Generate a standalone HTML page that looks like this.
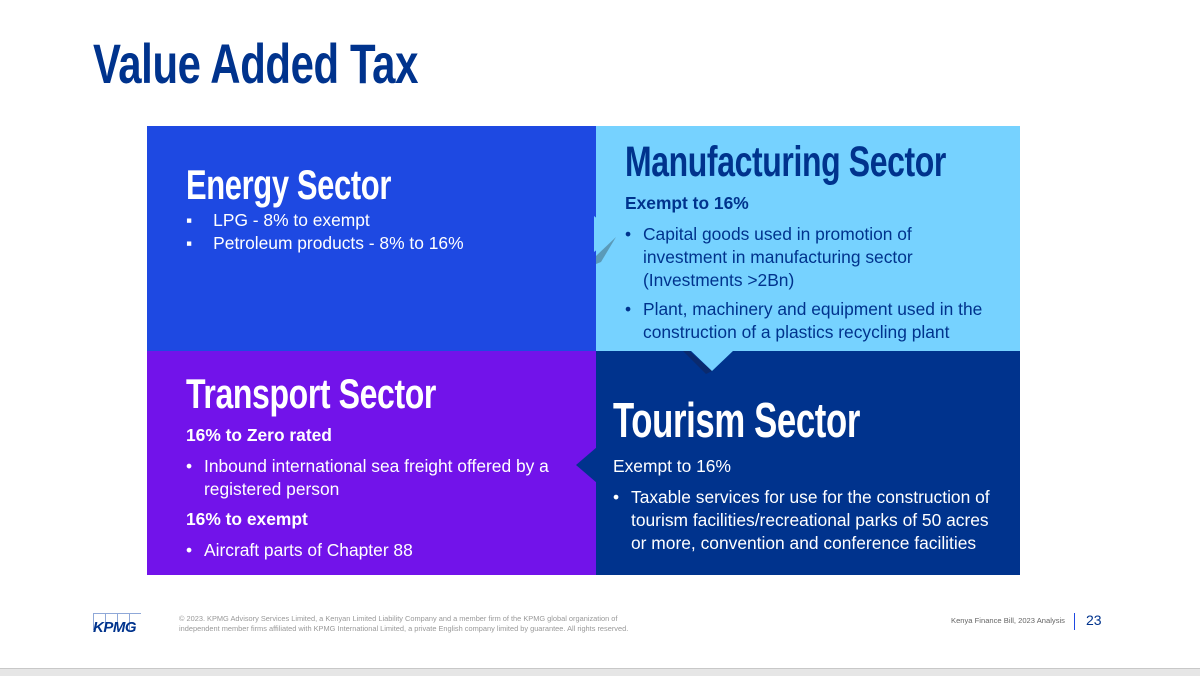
<!DOCTYPE html>
<html><head><meta charset="utf-8"><style>
body{margin:0;width:1200px;height:675px;overflow:hidden;background:#fff;font-family:"Liberation Sans",sans-serif;position:relative}
.a{position:absolute}
.h{position:absolute;font-weight:bold;transform-origin:left top;white-space:nowrap;letter-spacing:-0.5px;line-height:1}
.t{position:absolute;font-size:17.4px;line-height:23px;white-space:nowrap}
.t b.bu{font-weight:normal;display:inline-block;width:18px}
.q{position:absolute}
</style></head><body>
<div class="h" data-w="325" style="left:93px;top:36px;font-size:56px;color:#00338d">Value Added Tax</div>

<div class="q" style="left:147px;top:126px;width:449px;height:225px;background:#1e49e2"></div>
<div class="q" style="left:596px;top:126px;width:424px;height:225px;background:#76d2ff"></div>
<div class="q" style="left:147px;top:351px;width:449px;height:224px;background:#7213ea"></div>
<div class="q" style="left:596px;top:351px;width:424px;height:224px;background:#00338d"></div>

<div class="h" data-w="205" style="left:186px;top:164px;font-size:42px;color:#fff">Energy Sector</div>
<div class="t" style="left:186px;top:209px;color:#fff">
<div>▪<span style="padding-left:21px">LPG - 8% to exempt</span></div>
<div>▪<span style="padding-left:21px">Petroleum products - 8% to 16%</span></div></div>

<div class="h" data-w="321" style="left:625px;top:141px;font-size:43px;color:#00338d">Manufacturing Sector</div>
<div class="t" style="left:625px;top:192px;color:#00338d">
<div style="font-weight:bold">Exempt to 16%</div>
<div style="margin-top:8px"><b class="bu">•</b>Capital goods used in promotion of</div>
<div style="padding-left:18px">investment in manufacturing sector</div>
<div style="padding-left:18px">(Investments &gt;2Bn)</div>
<div style="margin-top:6px"><b class="bu">•</b>Plant, machinery and equipment used in the</div>
<div style="padding-left:18px">construction of a plastics recycling plant</div></div>

<div class="h" data-w="250" style="left:186px;top:373px;font-size:42px;color:#fff">Transport Sector</div>
<div class="t" style="left:186px;top:424px;color:#fff">
<div style="font-weight:bold">16% to Zero rated</div>
<div style="margin-top:8px"><b class="bu">•</b>Inbound international sea freight offered by a</div>
<div style="padding-left:18px">registered person</div>
<div style="font-weight:bold;margin-top:7px">16% to exempt</div>
<div style="margin-top:8px"><b class="bu">•</b>Aircraft parts of Chapter 88</div></div>

<div class="h" data-w="247" style="left:613px;top:397px;font-size:49px;color:#fff">Tourism Sector</div>
<div class="t" style="left:613px;top:455px;color:#fff">
<div>Exempt to 16%</div>
<div style="margin-top:8px"><b class="bu">•</b>Taxable services for use for the construction of</div>
<div style="padding-left:18px">tourism facilities/recreational parks of 50 acres</div>
<div style="padding-left:18px">or more, convention and conference facilities</div></div>

<div class="a" style="left:93px;top:613px;width:48px;height:17px;border-top:1px solid #8fa8d8"></div>
<div class="a" style="left:93px;top:613px;width:48px;height:17px;background:repeating-linear-gradient(90deg,#8fa8d8 0 1px,transparent 1px 12px)"></div>
<div class="a" style="left:93px;top:619px;font-size:15px;font-weight:bold;font-style:italic;color:#00338d;letter-spacing:-0.5px">KPMG</div>
<div class="a" style="left:179px;top:614px;font-size:7.4px;line-height:10px;color:#999;white-space:nowrap">© 2023. KPMG Advisory Services Limited, a Kenyan Limited Liability Company and a member firm of the KPMG global organization of<br>independent member firms affiliated with KPMG International Limited, a private English company limited by guarantee. All rights reserved.</div>
<div class="a" style="left:951px;top:616px;font-size:7.6px;color:#666;white-space:nowrap">Kenya Finance Bill, 2023 Analysis</div>
<div class="a" style="left:1074px;top:613px;width:1px;height:17px;background:#1e49e2"></div>
<div class="a" style="left:1086px;top:612px;font-size:14px;color:#00338d">23</div>
<div class="a" style="left:0;top:668px;width:1200px;height:7px;background:#e6e6e6;border-top:1px solid #c8c8c8"></div>

<svg style="position:absolute;left:560px;top:200px;z-index:100;overflow:visible" width="200" height="300" viewBox="560 200 200 300">
<path d="M596 256 L616 237 L601 262 L596 264 Z" fill="#5a9ab8"/>
<path d="M594 216 L617 234 L594 252 Z" fill="#76d2ff"/>
<path d="M683 351 L689 351 L712 371 L706 374 Z" fill="#0a2a6e"/>
<path d="M690 350 L734 350 L712 371 Z" fill="#76d2ff"/>
<path d="M597 447 L576 465 L597 483 Z" fill="#00338d"/>
</svg>
<script>
document.querySelectorAll('.h').forEach(function(e){var w=e.getBoundingClientRect().width;var t=+e.getAttribute('data-w');e.style.transform='scaleX('+(t/w)+')';});
</script>
</body></html>
